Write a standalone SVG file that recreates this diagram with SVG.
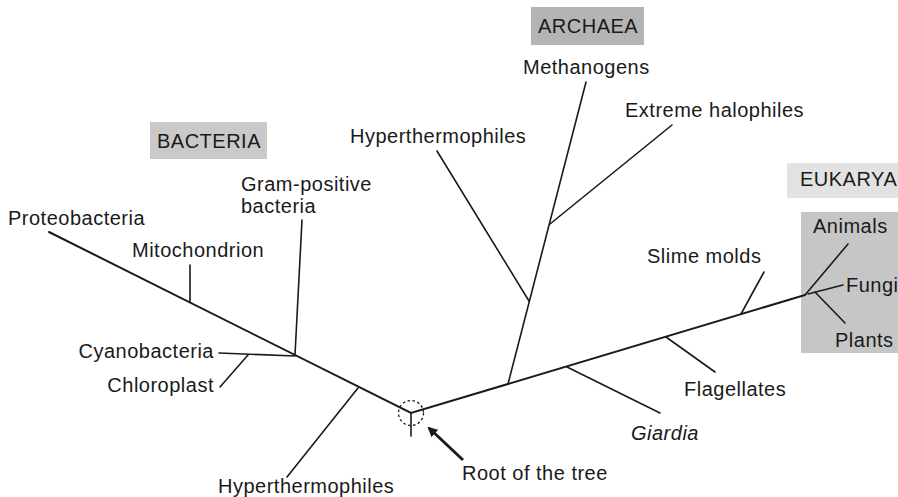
<svg xmlns="http://www.w3.org/2000/svg" width="898" height="497" viewBox="0 0 898 497">
<style>
text{font-family:"Liberation Sans",Arial,sans-serif;font-size:20px;letter-spacing:0.5px;fill:#1a1a1a}
.br{stroke:#1a1a1a;stroke-width:1.6;fill:none;stroke-linecap:round}
.main{stroke:#1a1a1a;stroke-width:2;fill:none;stroke-linecap:round}
</style>
<defs>
<marker id="ah" markerWidth="10" markerHeight="10" refX="8" refY="5" orient="auto" markerUnits="userSpaceOnUse" viewBox="0 0 10 10">
<path d="M0,0 L10,5 L0,10 z" fill="#1a1a1a"/>
</marker>
</defs>
<rect width="898" height="497" fill="#ffffff"/>
<g id="domain-boxes">
<rect x="150" y="122" width="117" height="37" fill="#c9c9c9"/>
<rect x="531" y="7" width="113" height="38" fill="#b4b4b4"/>
<rect x="787" y="163" width="111" height="35" fill="#e2e2e2"/>
<rect x="801" y="212" width="97" height="141" fill="#c6c6c6"/>
</g>
<g id="connectors">
<path class="main" d="M49,232 L411,413 L805,295"/>
<path class="br" d="M411,413 L411,436"/>
<path class="br" d="M190,265 L190,302"/>
<path class="br" d="M302,220 L295,355"/>
<path class="br" d="M219,353 L295,356"/>
<path class="br" d="M220,387 L248,355"/>
<path class="br" d="M358,388 L287,477"/>
<path class="br" d="M508,384 L586,82"/>
<path class="br" d="M672,125 L550,224"/>
<path class="br" d="M437,151 L529,301"/>
<path class="br" d="M567,367 L660,413"/>
<path class="br" d="M666,337 L715,372"/>
<path class="br" d="M741,314 L764,272"/>
<path class="br" d="M805,295 L848,244"/>
<path class="br" d="M808,294 L843,285"/>
<path class="br" d="M815,292 L845,323"/>
<circle cx="411" cy="413" r="12.5" fill="none" stroke="#1a1a1a" stroke-width="1.3" stroke-dasharray="2.5,2.5"/>
<path d="M463,460 L429,428" stroke="#1a1a1a" stroke-width="3" fill="none" marker-end="url(#ah)"/>
</g>
<g id="n-bacteria"><text x="157" y="148">BACTERIA</text></g>
<g id="n-archaea"><text x="538" y="33">ARCHAEA</text></g>
<g id="n-eukarya"><text x="800" y="186">EUKARYA</text></g>
<g id="n-proteobacteria"><text x="8" y="225">Proteobacteria</text></g>
<g id="n-mitochondrion"><text x="132" y="257">Mitochondrion</text></g>
<g id="n-grampositive"><text x="241" y="191">Gram-positive</text><text x="241" y="213">bacteria</text></g>
<g id="n-cyanobacteria"><text x="214" y="358" text-anchor="end">Cyanobacteria</text></g>
<g id="n-chloroplast"><text x="214" y="392" text-anchor="end">Chloroplast</text></g>
<g id="n-hyper-bacteria"><text x="218" y="493">Hyperthermophiles</text></g>
<g id="n-hyper-archaea"><text x="350" y="143">Hyperthermophiles</text></g>
<g id="n-methanogens"><text x="523" y="74">Methanogens</text></g>
<g id="n-halophiles"><text x="625" y="117">Extreme halophiles</text></g>
<g id="n-slimemolds"><text x="647" y="263">Slime molds</text></g>
<g id="n-flagellates"><text x="684" y="396">Flagellates</text></g>
<g id="n-giardia"><text x="631" y="440" font-style="italic">Giardia</text></g>
<g id="n-animals"><text x="813" y="233">Animals</text></g>
<g id="n-fungi"><text x="846" y="292">Fungi</text></g>
<g id="n-plants"><text x="835" y="347">Plants</text></g>
<g id="n-root"><text x="462" y="480">Root of the tree</text></g>
</svg>
